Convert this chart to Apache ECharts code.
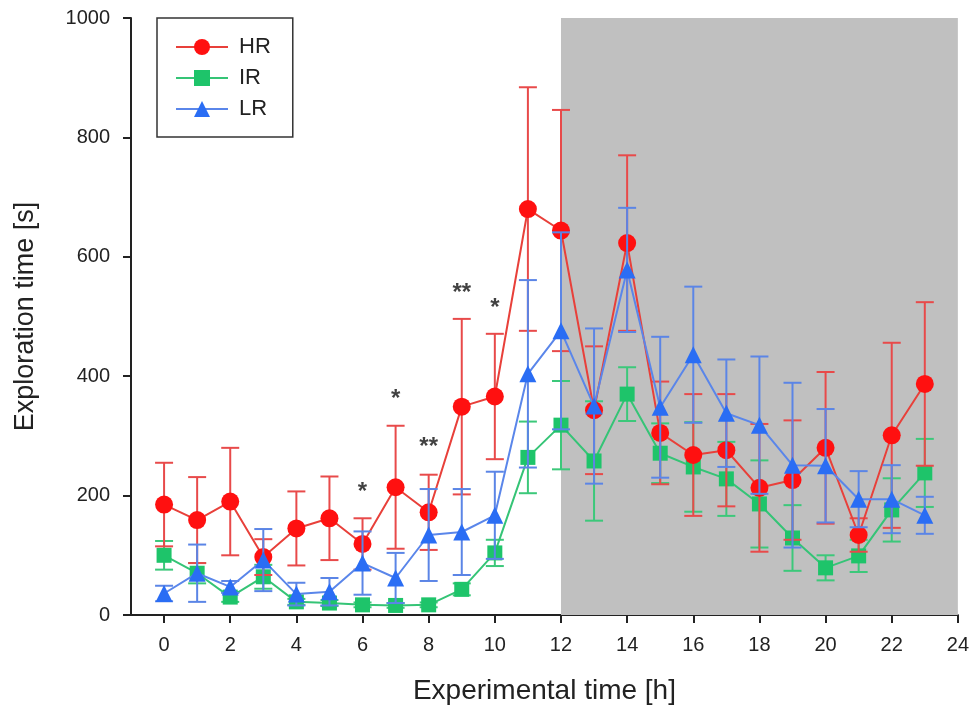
<!DOCTYPE html>
<html>
<head>
<meta charset="utf-8">
<script src="https://cdn.jsdelivr.net/npm/echarts@6/dist/echarts.min.js"></script>
<style>
  html, body { margin: 0; padding: 0; background: #fff; }
  #chart { width: 972px; height: 716px; }
</style>
</head>
<body>
<div id="chart"></div>
<script>
var hours = [0, 1, 2, 3, 4, 5, 6, 7, 8, 9, 10, 11, 12, 13, 14, 15, 16, 17, 18, 19, 20, 21, 22, 23]
var xTicks = [0, 2, 4, 6, 8, 10, 12, 14, 16, 18, 20, 22, 24]

var hrMean = [185, 159, 190, 97, 145, 162, 119, 214, 172, 349, 366, 680, 644, 343, 623, 305, 268, 276, 213, 226, 280, 134, 301, 387]
var hrErr = [70, 72, 90, 30, 62, 70, 43, 103, 63, 147, 105, 204, 202, 107, 147, 86, 102, 94, 107, 100, 127, 28, 155, 137]

var irMean = [100, 70, 30, 64, 22, 20, 17, 16, 17, 43, 104, 264, 318, 258, 370, 271, 248, 228, 186, 129, 79, 99, 176, 238]
var irErr = [24, 17, 8, 20, 5, 5, 4, 4, 4, 10, 22, 60, 74, 100, 45, 50, 75, 62, 73, 55, 21, 27, 53, 57]

var lrMean = [36, 70, 47, 92, 35, 39, 87, 62, 134, 139, 167, 404, 476, 350, 578, 348, 436, 338, 318, 251, 250, 194, 194, 167]
var lrErr = [13, 48, 10, 52, 19, 23, 53, 42, 77, 72, 73, 157, 165, 130, 104, 118, 114, 90, 115, 138, 95, 47, 57, 31]

// significance marks above HR
var sigHours = [6, 7, 8, 9, 10]
var sigLevel = [206, 362, 280, 539, 514]
var sigMarks = ['*', '*', '**', '**', '*']

// dark phase
var darkFrom = 12, darkTo = 24

var chart = echarts.init(document.getElementById('chart'))

function pairs(mean) {
    return hours.map(function (h, i) { return [h, mean[i]] })
}
function errData(mean, err) {
    return hours.map(function (h, i) { return [h, mean[i] - err[i], mean[i] + err[i]] })
}
function errSeries(name, mean, err, color, z) {
    return {
        name: name + ' err',
        type: 'custom',
        z: z,
        silent: true,
        data: errData(mean, err),
        renderItem: function (params, api) {
            var lo = api.coord([api.value(0), api.value(1)])
            var hi = api.coord([api.value(0), api.value(2)])
            var w = 9
            var st = { stroke: color, lineWidth: 2 }
            return {
                type: 'group',
                children: [
                    { type: 'line', shape: { x1: lo[0], y1: lo[1], x2: hi[0], y2: hi[1] }, style: st },
                    { type: 'line', shape: { x1: lo[0] - w, y1: lo[1], x2: lo[0] + w, y2: lo[1] }, style: st },
                    { type: 'line', shape: { x1: hi[0] - w, y1: hi[1], x2: hi[0] + w, y2: hi[1] }, style: st }
                ]
            }
        }
    }
}
function lineSeries(name, mean, symbol, size, lineColor, markColor, z) {
    return {
        name: name,
        type: 'line',
        z: z,
        data: pairs(mean),
        symbol: symbol,
        symbolSize: size,
        showAllSymbol: true,
        lineStyle: { color: lineColor, width: 2 },
        itemStyle: { color: markColor, borderWidth: 0 },
        color: markColor
    }
}

var option = {
    animation: false,
    textStyle: { fontFamily: 'Liberation Sans, Arial, sans-serif' },
    grid: { left: 131, right: 14, top: 18, bottom: 101 },
    legend: {
        data: ['HR', 'IR', 'LR'],
        orient: 'vertical',
        left: 157,
        top: 18,
        padding: [18, 22, 17, 18],
        itemWidth: 52,
        itemHeight: 20,
        itemGap: 9,
        borderColor: '#333',
        borderWidth: 1.5,
        textStyle: { fontSize: 22, color: '#222', padding: [0, 0, 0, 6] }
    },
    xAxis: {
        type: 'value',
        min: -1,
        max: 24,
        name: 'Experimental time [h]',
        nameLocation: 'middle',
        nameGap: 62,
        nameTextStyle: { fontSize: 28, color: '#222' },
        splitLine: { show: false },
        axisLine: { onZero: false, lineStyle: { color: '#222', width: 2 } },
        axisTick: { customValues: xTicks, length: 8, lineStyle: { color: '#222', width: 2 } },
        axisLabel: { customValues: xTicks, fontSize: 20, color: '#222', margin: 20 }
    },
    yAxis: {
        type: 'value',
        min: 0,
        max: 1000,
        interval: 200,
        name: 'Exploration time [s]',
        nameLocation: 'middle',
        nameGap: 92,
        nameTextStyle: { fontSize: 27, color: '#222' },
        splitLine: { show: false },
        axisLine: { show: true, onZero: false, lineStyle: { color: '#222', width: 2 } },
        axisTick: { show: true, length: 8, lineStyle: { color: '#222', width: 2 } },
        axisLabel: { fontSize: 20, color: '#222', margin: 21, formatter: function (v) { return String(v) } }
    },
    series: [
        {
            name: 'dark',
            type: 'line',
            data: [],
            silent: true,
            z: 0,
            markArea: {
                silent: true,
                itemStyle: { color: '#c0c0c0' },
                data: [[{ coord: [darkFrom, 0] }, { coord: [darkTo, 1000] }]]
            }
        },
        errSeries('IR', irMean, irErr, '#3cc87a', 2),
        lineSeries('IR', irMean, 'rect', 15, '#35c476', '#1ec46a', 3),
        errSeries('HR', hrMean, hrErr, '#e84a4a', 4),
        lineSeries('HR', hrMean, 'circle', 18, '#e8403a', '#ff1010', 5),
        errSeries('LR', lrMean, lrErr, '#5b85e6', 6),
        lineSeries('LR', lrMean, 'triangle', 17, '#5a86ea', '#2a6df4', 7),
        {
            name: 'sig',
            type: 'scatter',
            z: 8,
            symbolSize: 0,
            silent: true,
            data: sigHours.map(function (h, i) { return { value: [h, sigLevel[i]], label: { formatter: sigMarks[i] } } }),
            label: {
                show: true,
                position: 'inside',
                fontSize: 24,
                fontWeight: 'bold',
                color: '#111'
            }
        }
    ]
}
chart.setOption(option)
</script>
</body>
</html>
